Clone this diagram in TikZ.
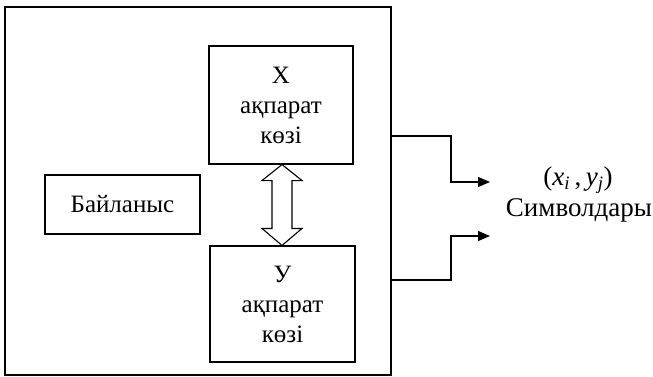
\documentclass[tikz,border=0pt]{standalone}
\usepackage{fontspec}
\setmainfont{Liberation Serif}
\usetikzlibrary{arrows.meta,calc}
\begin{document}
\begin{tikzpicture}[x=1pt,y=1pt,
  frame/.style={draw,line width=1.1pt,inner sep=0pt},
  blockbox/.style={draw,line width=1.1pt,align=center,inner sep=0pt,font=\fontsize{25}{30}\selectfont},
  feed/.style={line width=1.1pt},
  feedarrow/.style={feed,-{Triangle[length=12pt,width=10pt]}},
  lbl/.style={font=\fontsize{27}{30}\selectfont}]
\useasboundingbox (0,0) rectangle (653,376);
% outer enclosure
\node[frame,minimum width=386pt,minimum height=368pt] (outer) at (198,185) {};
% blocks
\node[blockbox,minimum width=144pt,minimum height=118pt] (src1) at (281,271) {Х\\ақпарат\\көзі};
\node[blockbox,minimum width=145pt,minimum height=116pt] (src2) at (282.5,72) {У\\ақпарат\\көзі};
\node[blockbox,minimum width=155pt,minimum height=59pt] (link) at (122.5,171.5) {Байланыс};
% hollow double arrow between the two sources
\coordinate (top) at ($(src1.south)+(1,0)$);
\coordinate (bot) at ($(src2.north)+(-0.5,0)$);
\draw[line width=1.1pt,line join=miter]
  (top) -- ++(20,-16) -- ++(-10,0) |- ($(bot)+(10,17)$) -- ++(10,0)
  -- (bot) -- ++(-20,17) -- ++(10,0) |- ($(top)+(-10,-16)$) -- ++(-10,0) -- cycle;
% outputs
\coordinate (o1) at (outer.east |- 0,240);
\coordinate (o2) at (outer.east |- 0,96);
\coordinate (e1) at (490,194);
\coordinate (e2) at (490,140);
\draw[feedarrow] (o1) -| (451,194) -- (e1);
\draw[feedarrow] (o2) -| (451,140) -- (e2);
% output label
\node[lbl] (sym) at (578,196) {(\textit{x}\textsubscript{\textit{i}}\,,\,\textit{y}\textsubscript{\textit{j}})};
\node[lbl] (symname) at (579,166) {Символдары};
\end{tikzpicture}
\end{document}
